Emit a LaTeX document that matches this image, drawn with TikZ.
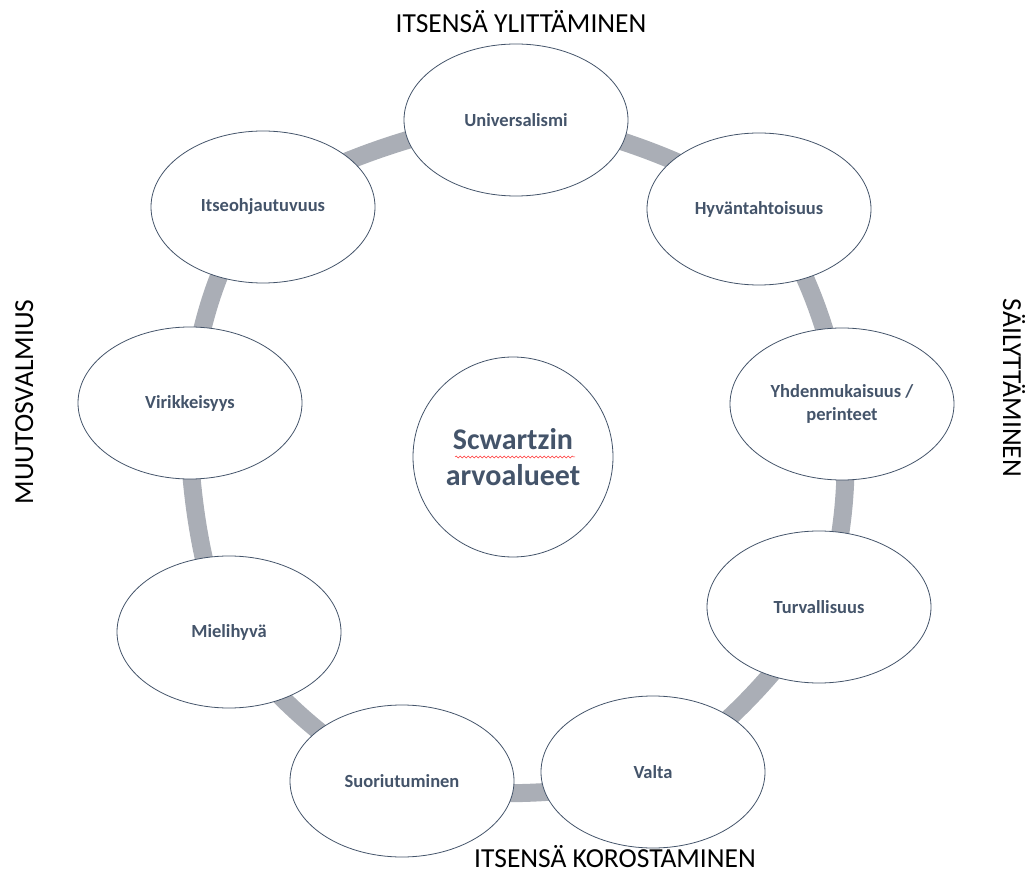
\documentclass[tikz,border=0pt]{standalone}
\usepackage{fontspec}
\setmainfont{Carlito}
\usetikzlibrary{shapes.geometric,decorations.pathmorphing}
\pgfdeclarelayer{background}
\pgfsetlayers{background,main}
\definecolor{txt}{HTML}{44546A}
\definecolor{ringc}{RGB}{170,174,182}
\begin{document}
\begin{tikzpicture}[x=1pt,y=-1pt,
  val/.style={ellipse, draw=txt, line width=0.8pt, fill=white,
    minimum width=224pt, minimum height=152pt, inner sep=0pt,
    text=txt, font=\fontsize{18.5}{22.5}\selectfont\bfseries, align=center},
  hub/.style={circle, draw=txt, line width=0.8pt, fill=white,
    minimum size=200pt, inner sep=0pt, text=txt,
    font=\fontsize{30}{36.6}\selectfont\bfseries, align=center},
  ring/.style={draw=ringc, line width=18pt},
  side/.style={font=\fontsize{27.5}{33}\selectfont, text=black, inner sep=0pt},
  squig/.style={draw=red!80, line width=0.5pt, decorate,
    decoration={snake, segment length=4pt, amplitude=1pt}}]
\useasboundingbox (0,0) rectangle (1034,874);

\node[val] (univ)  at (516,120) {Universalismi};
\node[val] (hyv)   at (759,209) {Hyväntahtoisuus};
\node[val] (yhd)   at (842,404) {Yhdenmukaisuus /\\perinteet};
\node[val] (turv)  at (819,607) {Turvallisuus};
\node[val] (valta) at (653,772) {Valta};
\node[val] (suor)  at (402,781) {Suoriutuminen};
\node[val] (miel)  at (229,632) {Mielihyvä};
\node[val] (vir)   at (190,403) {Virikkeisyys};
\node[val] (itse)  at (263,207) {Itseohjautuvuus};

\node[hub] (ctr) at (513,457) {Scwartzin\\arvoalueet};
\draw[squig] ([xshift=-58pt,yshift=0pt]ctr.center) -- ([xshift=62pt,yshift=0pt]ctr.center);

\begin{pgfonlayer}{background}
\draw[ring] plot[smooth cycle] coordinates {(univ.center) (hyv.center) (yhd.center)
  (turv.center) (valta.center) (suor.center) (miel.center) (vir.center) (itse.center)};
\end{pgfonlayer}

\node[side, anchor=base] (ttop) at (521,33) {ITSENSÄ YLITTÄMINEN};
\node[side, anchor=base] (tbot) at (615,867) {ITSENSÄ KOROSTAMINEN};
\node[side, rotate=90, anchor=base] (tleft) at (33,402) {MUUTOSVALMIUS};
\node[side, rotate=-90, anchor=base] (tright) at (1003,388) {SÄILYTTÄMINEN};
\end{tikzpicture}
\end{document}
